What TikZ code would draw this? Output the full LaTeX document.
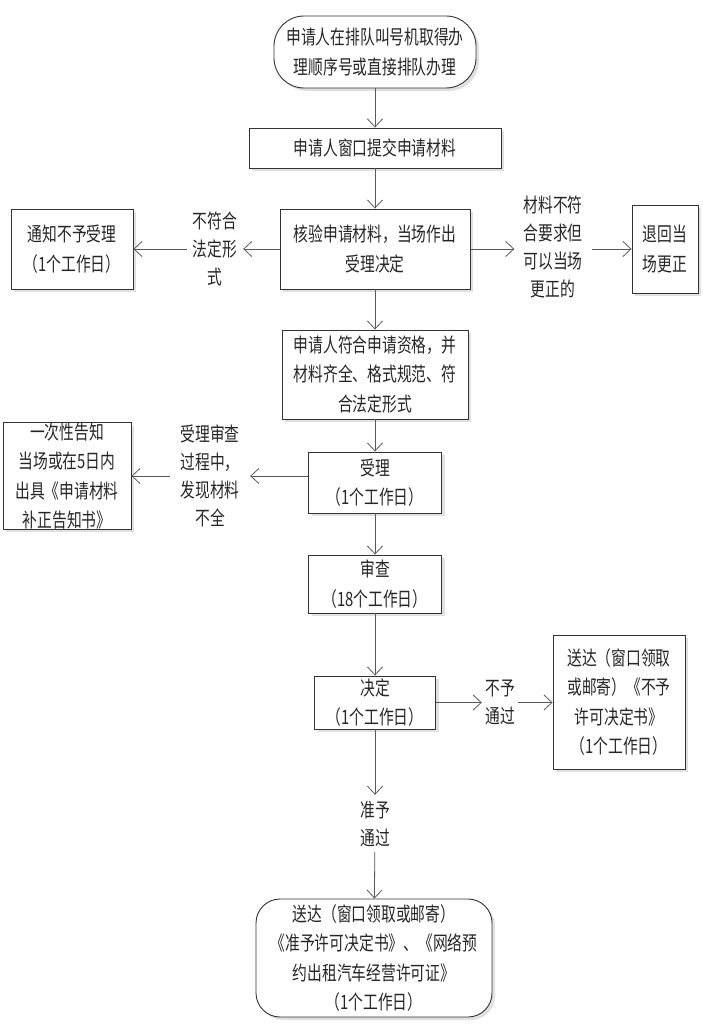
\documentclass[tikz,border=0pt]{standalone}
\usepackage{fontspec}
\setmainfont{Noto Sans CJK SC}[FakeStretch=0.75]
\usetikzlibrary{arrows.meta,shadows}
\begin{document}
\begin{tikzpicture}[x=1pt,y=-1pt,
  txt/.style={font=\fontsize{19.7pt}{29.5pt}\selectfont, text=black!85, align=center},
  box/.style={txt, draw=black!80, line width=0.9pt, fill=white, inner sep=0pt,
    drop shadow={shadow xshift=3pt, shadow yshift=-3pt, fill=black!12, opacity=1}},
  lab/.style={txt, font=\fontsize{19.7pt}{28pt}\selectfont, inner sep=0pt},
  arr/.style={draw=black!65, line width=0.8pt, -{Straight Barb[length=8pt,width=15pt]}}]
\useasboundingbox (0,0) rectangle (703,1025);

% main column
\node[box, minimum width=202pt, minimum height=72pt, rounded corners=30pt] (start) at (375,52)
  {申请人在排队叫号机取得办\\理顺序号或直接排队办理};
\node[box, minimum width=252pt, minimum height=40pt] (submit) at (375,148) {申请人窗口提交申请材料};
\node[box, minimum width=190pt, minimum height=80pt] (verify) at (375,249) {核验申请材料，当场作出\\受理决定};
\node[box, minimum width=186pt, minimum height=89pt] (qualify) at (375,374.5)
  {申请人符合申请资格，并\\材料齐全、格式规范、符\\合法定形式};
\node[box, minimum width=133pt, minimum height=61pt] (accept) at (375,482.5) {受理\\（1个工作日）};
\node[box, minimum width=133pt, minimum height=58pt] (review) at (375,584) {审查\\（18个工作日）};
\node[box, minimum width=121pt, minimum height=53pt] (decide) at (375,702.5) {决定\\（1个工作日）};
\node[lab, minimum height=57pt] (lab4) at (375,823.5) {准予\\通过};
\node[box, minimum width=236pt, minimum height=118pt, rounded corners=24pt] (final) at (374,958)
  {送达（窗口领取或邮寄）\\《准予许可决定书》、《网络预\\约出租汽车经营许可证》\\（1个工作日）};

% side boxes
\node[box, minimum width=122pt, minimum height=80pt] (notify) at (72,249) {通知不予受理\\（1个工作日）};
\node[lab, minimum width=56pt] (lab1) at (215,249) {不符合\\法定形\\式};
\node[lab, minimum width=77pt] (lab1r) at (553,247) {材料不符\\合要求但\\可以当场\\更正的};
\node[box, minimum width=66pt, minimum height=88pt] (correct) at (665,249) {退回当\\场更正};

\node[box, minimum width=128pt, minimum height=106pt] (onetime) at (67,476)
  {一次性告知\\当场或在5日内\\出具《申请材料\\补正告知书》};
\node[lab, minimum width=80pt] (lab2) at (210,476) {受理审查\\过程中，\\发现材料\\不全};

\node[lab, minimum width=36pt] (lab3) at (500,702.5) {不予\\通过};
\node[box, minimum width=132pt, minimum height=134pt] (deny) at (619,702)
  {送达（窗口领取\\或邮寄）《不予\\许可决定书》\\（1个工作日）};

% connectors
\draw[arr] (start) -- (submit);
\draw[arr] (submit) -- (verify);
\draw[arr] (verify) -- (qualify);
\draw[arr] (qualify) -- (accept);
\draw[arr] (accept) -- (review);
\draw[arr] (review) -- (decide);
\draw[arr] (decide) -- (lab4);
\draw[arr] (lab4) -- (final);

\draw[arr] (verify.west) -- (lab1.east);
\draw[arr] (lab1.west) -- (notify.east);
\draw[arr] (verify.east) -- (lab1r.west |- verify.east);
\draw[arr] (lab1r.east |- verify.east) -- (correct.west);

\draw[arr] (accept.west |- lab2.east) -- (lab2.east);
\draw[arr] (lab2.west) -- (onetime.east);

\draw[arr] (decide.east) -- (lab3.west);
\draw[arr] (lab3.east) -- (deny.west |- lab3.east);
\end{tikzpicture}
\end{document}
